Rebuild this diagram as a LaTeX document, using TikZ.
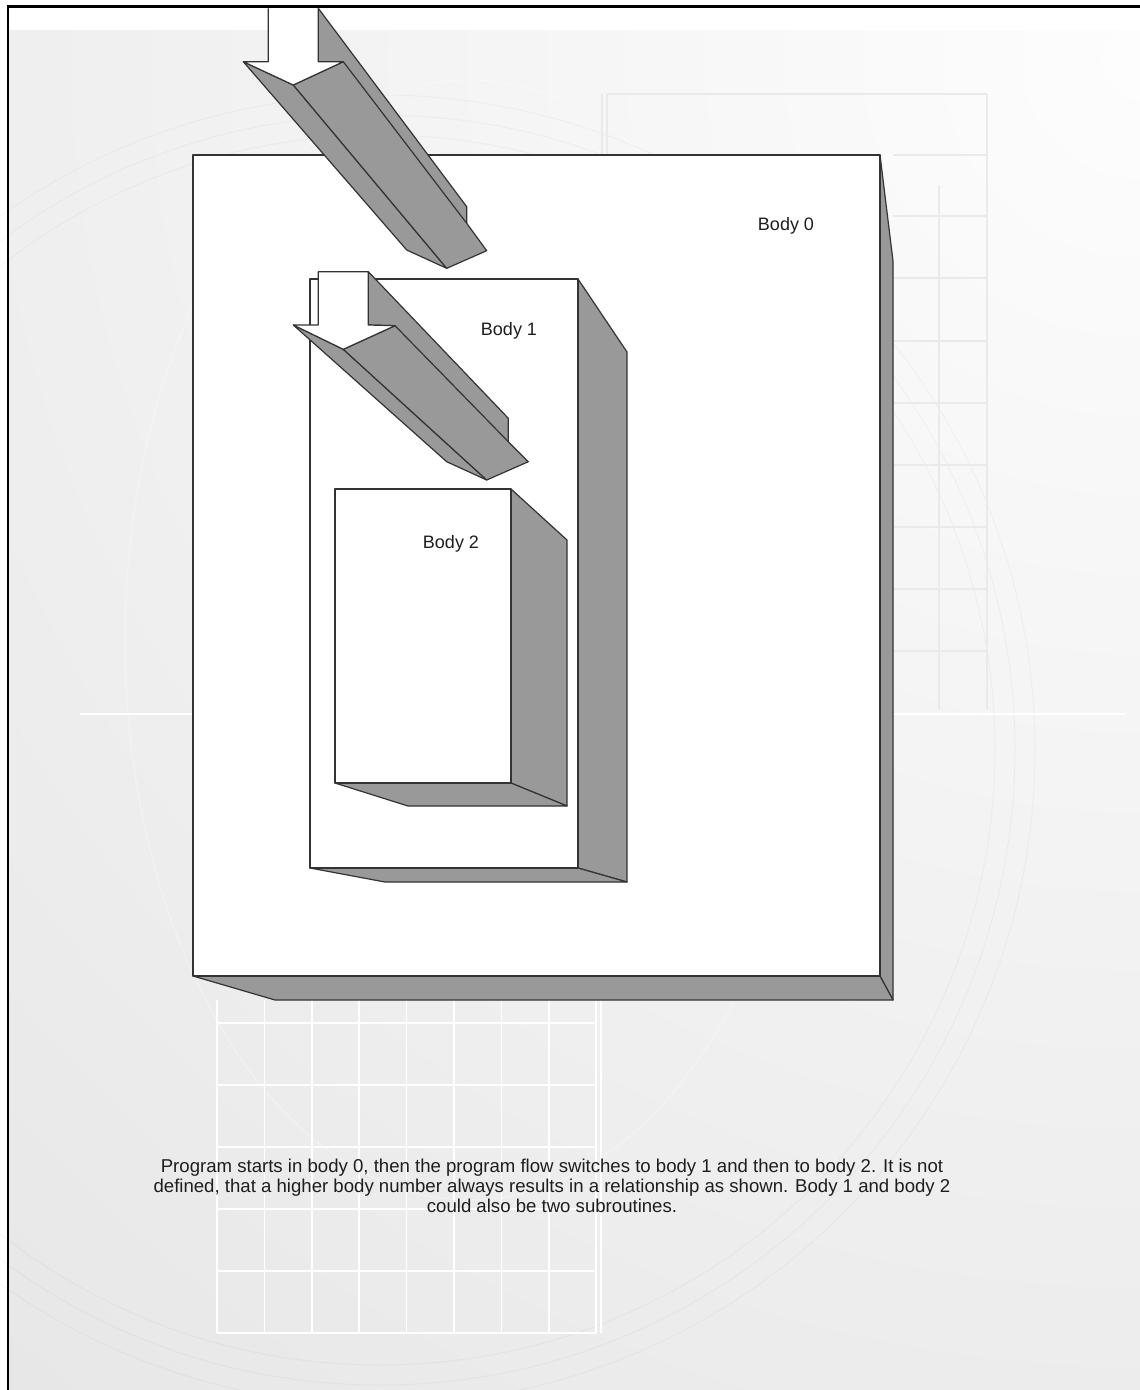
\documentclass[tikz,border=0pt]{standalone}
\usepackage{fontspec}
\setmainfont{Liberation Sans}
\definecolor{sidegray}{HTML}{999999}
\definecolor{edge}{HTML}{333333}
\definecolor{txt}{HTML}{1E1E1E}
\definecolor{bgtop}{HTML}{FDFDFD}
\definecolor{bgbot}{HTML}{E5E5E5}
\definecolor{faintline}{HTML}{EAEAEA}
\begin{document}
\begin{tikzpicture}[x=1pt,y=-1pt,
  face/.style={fill=sidegray, draw=edge, line width=1.2pt, line join=round},
  frontface/.style={fill=white, draw=edge, line width=1.3pt, line join=round},
  inner/.style={draw=edge, line width=1.2pt},
  lbl/.style={font=\fontsize{18}{20.5}\selectfont, text=txt, inner sep=0pt, anchor=base},
  gridw/.style={draw=white, line width=1.5pt},
  gridl/.style={draw=faintline, line width=1.1pt},
  arcl/.style={draw=black, draw opacity=0.03, line width=1pt},
]
% ---------- background ----------
\path[use as bounding box] (0,0) rectangle (1140,1390);
\fill[white] (0,0) rectangle (1140,1390);
\begin{scope}
  \clip (8,30) rectangle (1140,1390);
  \fill[bgbot] (8,30) rectangle (1140,1390);
  \shade[inner color=bgtop, outer color=bgbot] (1140,60) circle[radius=1900];
\end{scope}
% faint arcs
\draw[arcl] (380,750) circle[radius=615];
\draw[arcl] (380,750) circle[radius=635];
\draw[arcl] (380,750) circle[radius=655];
\draw[draw=white, line width=1pt, draw opacity=0.35] (470,640) ellipse[x radius=345, y radius=560];
% long horizontal guide
\draw[gridw] (80,714) -- (1125,714);
% upper right grid
\draw[gridl] (607,94) -- (987,94);
\draw[gridl] (602,94) -- (602,160);
\draw[gridl] (607,94) -- (607,160);
\draw[gridl] (987,94) -- (987,710);
\draw[gridl] (939,185) -- (939,710);
\foreach \yy in {155,216,278,341,403,465,527,589,651}
  \draw[gridl] (893,\yy) -- (987,\yy);
% lower left grid
\foreach \xx in {217,264.4,311.8,359.2,406.6,454,501.4,548.8,596.2,601}
  \draw[gridw] (\xx,1000) -- (\xx,1333);
\foreach \yy in {1023,1085,1147,1209,1271,1333}
  \draw[gridw] (217,\yy) -- (596.2,\yy);
% frame lines (top and left)
\draw[black, line width=2.5pt] (7.8,1390) -- (7.8,6.7) -- (1140,6.7);

% ---------- Body 0 ----------
\coordinate (b0tl) at (193,155);
\coordinate (b0tr) at (880,155);
\coordinate (b0br) at (880,976);
\coordinate (b0bl) at (193,976);
\coordinate (b0sk) at (893,261);
\coordinate (b0bk) at (893,1000);
\coordinate (b0lk) at (275,1000);
\path[face] (b0tr) -- (b0sk) -- (b0bk) -- (b0br) -- cycle;
\path[face] (b0bl) -- (b0lk) -- (b0bk) -- (b0br) -- cycle;
\path[frontface] (b0tl) rectangle (b0br);

% ---------- Arrow 1 ----------
\coordinate (a1stl) at (268.3,8.3);
\coordinate (a1str) at (318.3,8.3);
\coordinate (a1sbr) at (318.3,61.7);
\coordinate (a1hr)  at (343.3,61.7);
\coordinate (a1t)   at (293.3,85);
\coordinate (a1hl)  at (243.3,61.7);
\coordinate (a1sbl) at (268.3,61.7);
\coordinate (a1brt) at (466.7,206.7);
\coordinate (a1bri) at (466.7,223.3);
\coordinate (a1bhr) at (486.7,250.7);
\coordinate (a1bt)  at (446.7,268.3);
\coordinate (a1bhl) at (406.7,250);
\path[face] (a1hl) -- (a1bhl) -- (a1bt) -- (a1t) -- cycle;
\path[face] (a1t) -- (a1bt) -- (a1bhr) -- (a1bri) -- (a1brt) -- (a1str) -- (a1sbr) -- (a1hr) -- cycle;
\draw[inner] (a1hr) -- (a1bri);
\fill[white] (a1stl) -- (a1sbl) -- (a1hl) -- (a1t) -- (a1hr) -- (a1sbr) -- (a1str) -- cycle;
\draw[inner, line join=round] (a1stl) -- (a1sbl) -- (a1hl) -- (a1t) -- (a1hr) -- (a1sbr) -- (a1str);

% ---------- Body 1 ----------
\coordinate (b1tl) at (310,279);
\coordinate (b1tr) at (578,279);
\coordinate (b1br) at (578,868);
\coordinate (b1bl) at (310,868);
\coordinate (b1sk) at (627,352);
\coordinate (b1bk) at (627,882);
\coordinate (b1lk) at (385,882);
\path[face] (b1tr) -- (b1sk) -- (b1bk) -- (b1br) -- cycle;
\path[face] (b1bl) -- (b1lk) -- (b1bk) -- (b1br) -- cycle;
\path[frontface] (b1tl) rectangle (b1br);

% ---------- Arrow 2 ----------
\coordinate (a2stl) at (318.3,271.7);
\coordinate (a2str) at (368.3,271.7);
\coordinate (a2sbr) at (368.3,325);
\coordinate (a2hr)  at (395,325.7);
\coordinate (a2t)   at (343.3,349.3);
\coordinate (a2hl)  at (293.3,325);
\coordinate (a2sbl) at (318.3,325);
\coordinate (a2brt) at (508.3,418.3);
\coordinate (a2bri) at (508.3,441.7);
\coordinate (a2bhr) at (528.3,461.7);
\coordinate (a2bt)  at (486.7,480);
\coordinate (a2bhl) at (446.7,461.7);
\path[face] (a2hl) -- (a2bhl) -- (a2bt) -- (a2t) -- cycle;
\path[face] (a2t) -- (a2bt) -- (a2bhr) -- (a2bri) -- (a2brt) -- (a2str) -- (a2sbr) -- (a2hr) -- cycle;
\draw[inner] (a2hr) -- (a2bri);
\path[frontface, line width=1.2pt] (a2stl) -- (a2sbl) -- (a2hl) -- (a2t) -- (a2hr) -- (a2sbr) -- (a2str) -- cycle;

% ---------- Body 2 ----------
\coordinate (b2tl) at (335,489);
\coordinate (b2tr) at (511,489);
\coordinate (b2br) at (511,783);
\coordinate (b2bl) at (335,783);
\coordinate (b2sk) at (567,540);
\coordinate (b2bk) at (567,806);
\coordinate (b2lk) at (408,806);
\path[face] (b2tr) -- (b2sk) -- (b2bk) -- (b2br) -- cycle;
\path[face] (b2bl) -- (b2lk) -- (b2bk) -- (b2br) -- cycle;
\path[frontface] (b2tl) rectangle (b2br);

% ---------- labels ----------
\node[lbl] (l0) at (786,230) {Body 0};
\node[lbl] (l1) at (509,335) {Body 1};
\node[lbl] (l2) at (451,548) {Body 2};
\node[font=\fontsize{18.6}{20.3}\selectfont, text=txt, align=center, inner sep=0pt] (caption) at (552,1186)
  {Program starts in body 0, then the program flow switches to body 1 and then to body 2. It is not\\
   defined, that a higher body number always results in a relationship as shown. Body 1 and body 2\\
   could also be two subroutines.};
\end{tikzpicture}
\end{document}
